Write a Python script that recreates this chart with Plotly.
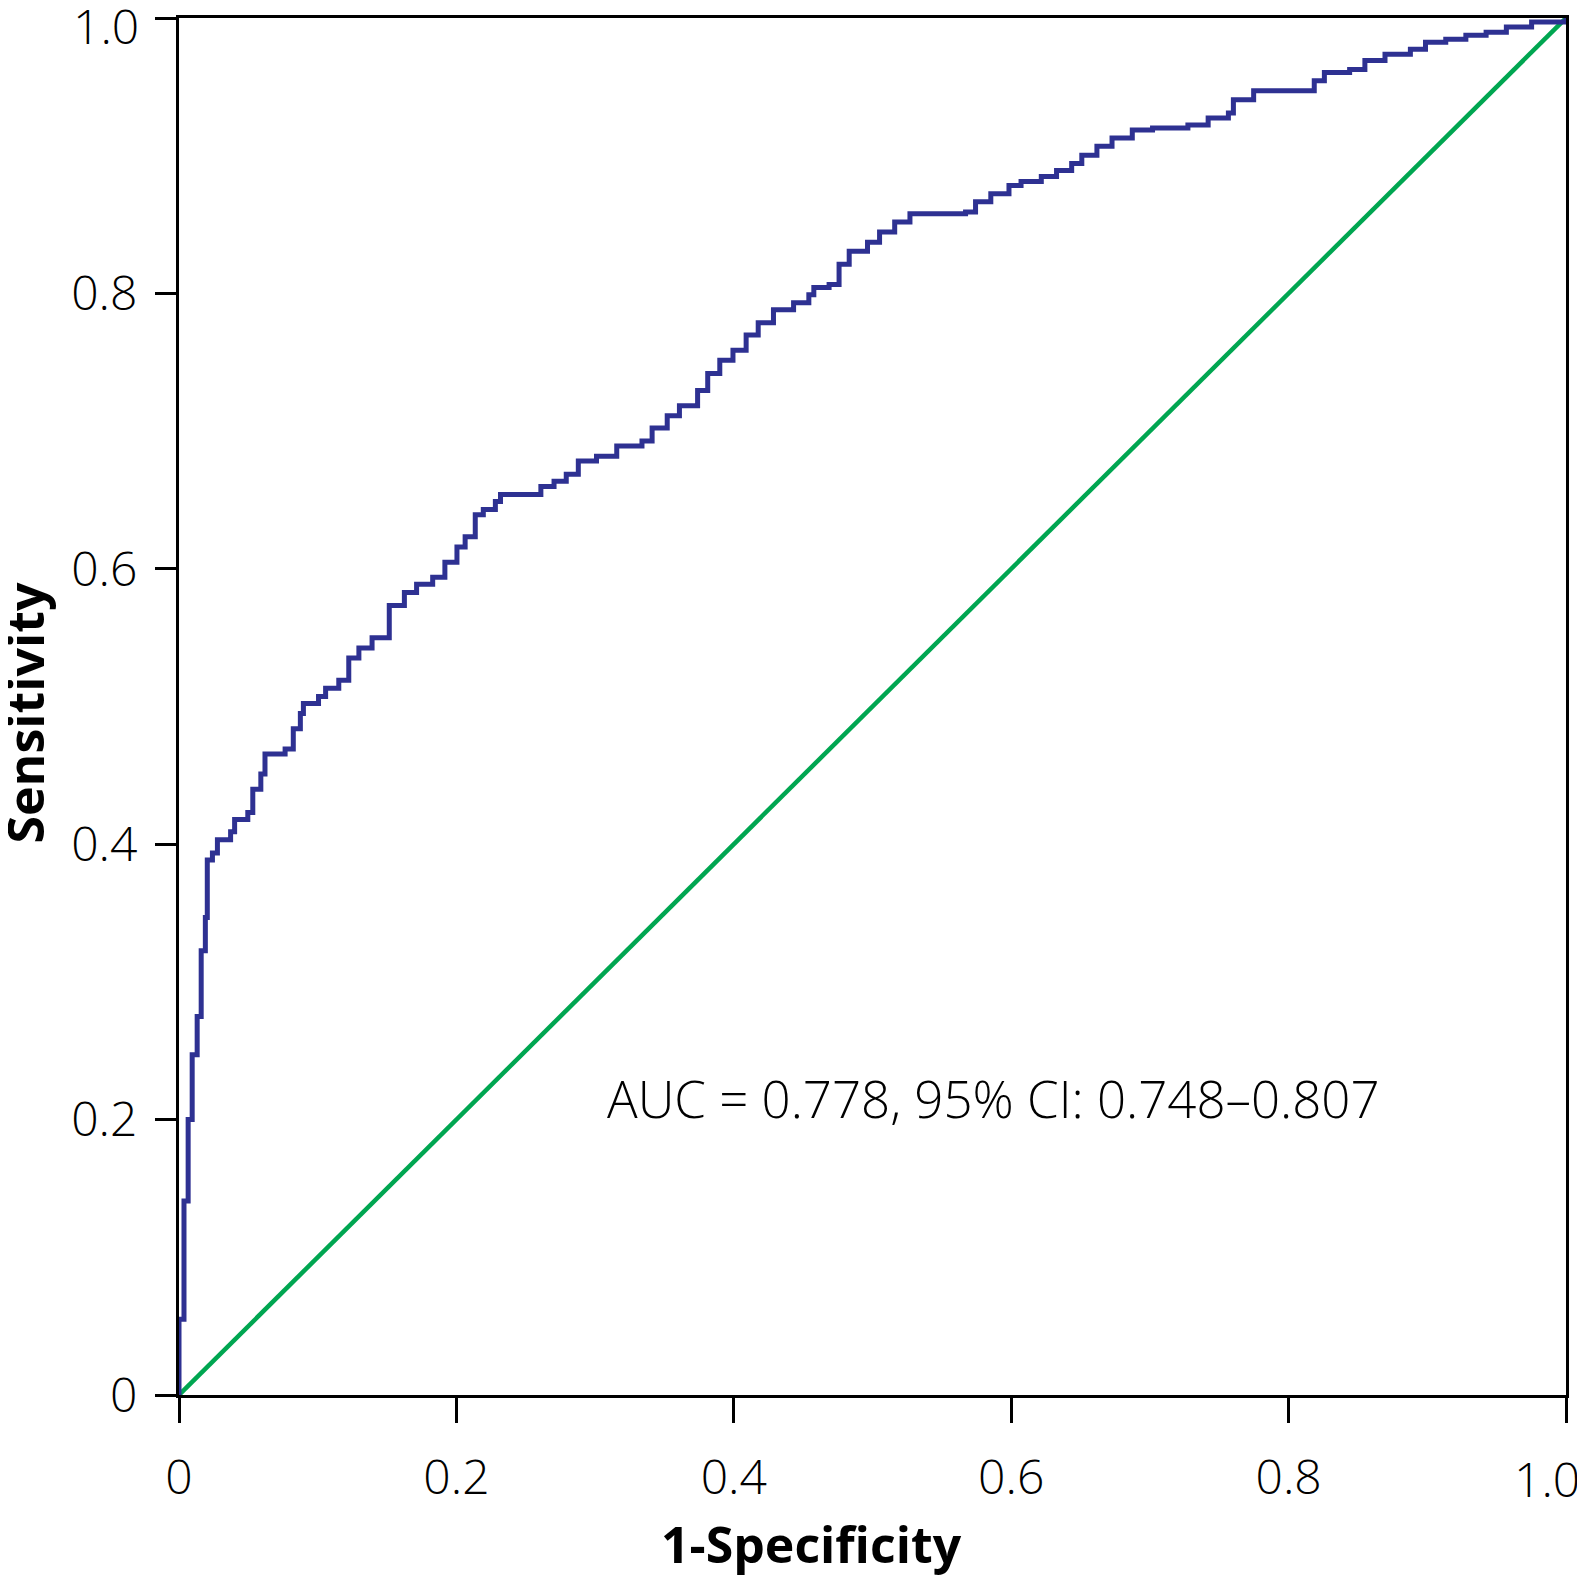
import plotly.graph_objects as go

# ROC curve (1-specificity, sensitivity), step points
px_x = [177, 177, 182, 186, 190, 195, 199, 203, 205, 210, 215, 228, 232, 245, 250, 258, 262, 282, 290, 297,
        300, 315, 322, 335, 345, 355, 368, 385, 400, 412, 428, 440, 452, 460, 470, 478, 490, 495, 525, 535,
        548, 560, 572, 590, 610, 635, 645, 660, 672, 690, 700, 712, 725, 738, 750, 765, 785, 800, 805, 820,
        830, 840, 858, 870, 885, 900, 955, 965, 980, 998, 1010, 1030, 1045, 1060, 1070, 1085, 1100, 1120,
        1140, 1175, 1195, 1215, 1220, 1240, 1290, 1300, 1310, 1335, 1350, 1370, 1395, 1410, 1430, 1450,
        1470, 1490, 1515, 1549]
px_y = [1380, 1305, 1188, 1107, 1043, 1005, 940, 907, 850, 843, 830, 822, 810, 803, 780, 765, 745, 740, 720, 705,
        695, 688, 680, 672, 650, 640, 630, 598, 585, 577, 570, 555, 540, 530, 508, 503, 495, 488, 488, 480,
        475, 468, 455, 450, 440, 435, 422, 410, 400, 385, 368, 355, 345, 330, 318, 305, 298, 290, 283, 280,
        260, 247, 238, 228, 218, 210, 208, 198, 190, 182, 178, 173, 167, 160, 152, 143, 135, 127,
        125, 122, 115, 110, 97, 88, 88, 78, 70, 67, 58, 52, 47, 40, 37, 33,
        30, 25, 20, 16]
fpr = [round((v - 177) / 1372, 4) for v in px_x]
tpr = [round((1380 - v) / 1364, 4) for v in px_y]

ref_x = [0, 1]
ref_y = [0, 1]

tick_vals = [0, 0.2, 0.4, 0.6, 0.8, 1.0]
x_tick_text = ["0", "0.2", "0.4", "0.6", "0.8", ""]   # last labels drawn separately so they stay inside the page
y_tick_text = ["0", "0.2", "0.4", "0.6", "0.8", ""]
last_label = "1.0"

annotation_text = "AUC = 0.778, 95% CI: 0.748\u20130.807"
x_title = "1-Specificity"
y_title = "Sensitivity"

fig = go.Figure()
fig.add_trace(go.Scatter(x=ref_x, y=ref_y, mode="lines",
                         line=dict(color="#00A651", width=4.5), hoverinfo="skip"))
fig.add_trace(go.Scatter(x=fpr, y=tpr, mode="lines", line_shape="hv",
                         line=dict(color="#2E3192", width=5)))

font_light = dict(family="Open Sans, Lato, sans-serif", size=48, color="black", weight=300)
font_annot = dict(family="Open Sans, Lato, sans-serif", size=51, color="black", weight=300)
font_bold = dict(family="Open Sans, Lato, sans-serif", size=50, color="black", weight="bold")

fig.update_layout(
    width=1585, height=1577,
    margin=dict(l=171, r=27, t=10, b=190, autoexpand=False),
    plot_bgcolor="white", paper_bgcolor="white",
    showlegend=False,
    annotations=[
        dict(x=0.307, y=0.216, xref="x", yref="y", text=annotation_text,
             showarrow=False, xanchor="left", yanchor="middle", font=font_annot),
        dict(x=1, y=-0.0605, xref="x", yref="paper", text=last_label,
             showarrow=False, xanchor="right", yanchor="middle", xshift=16, font=font_light),
        dict(x=0, y=1, xref="paper", yref="y", text=last_label,
             showarrow=False, xanchor="right", yanchor="middle", xshift=-38, yshift=-7, font=font_light),
        dict(x=0.456, y=-0.1085, xref="paper", yref="paper", text=x_title,
             showarrow=False, xanchor="center", yanchor="middle", font=font_bold),
        dict(x=-0.137, y=0.4956, xref="paper", yref="paper", text=y_title, textangle=-90,
             showarrow=False, xanchor="left", yanchor="middle", font=font_bold),
    ],
)
fig.update_xaxes(range=[0, 1], tickvals=tick_vals, ticktext=x_tick_text, showgrid=False, zeroline=False,
                 showline=True, linecolor="black", linewidth=3, mirror=True, automargin=False,
                 ticks="outside", ticklen=25, tickwidth=3, tickcolor="black",
                 ticklabelstandoff=13, ticklabeloverflow="allow", tickfont=font_light)
fig.update_yaxes(range=[0, 1], tickvals=tick_vals, ticktext=y_tick_text, showgrid=False, zeroline=False,
                 showline=True, linecolor="black", linewidth=3, mirror=True, automargin=False,
                 ticks="outside", ticklen=21, tickwidth=3, tickcolor="black",
                 ticklabelstandoff=8, ticklabeloverflow="allow", tickfont=font_light)

fig.write_html("out.html")
